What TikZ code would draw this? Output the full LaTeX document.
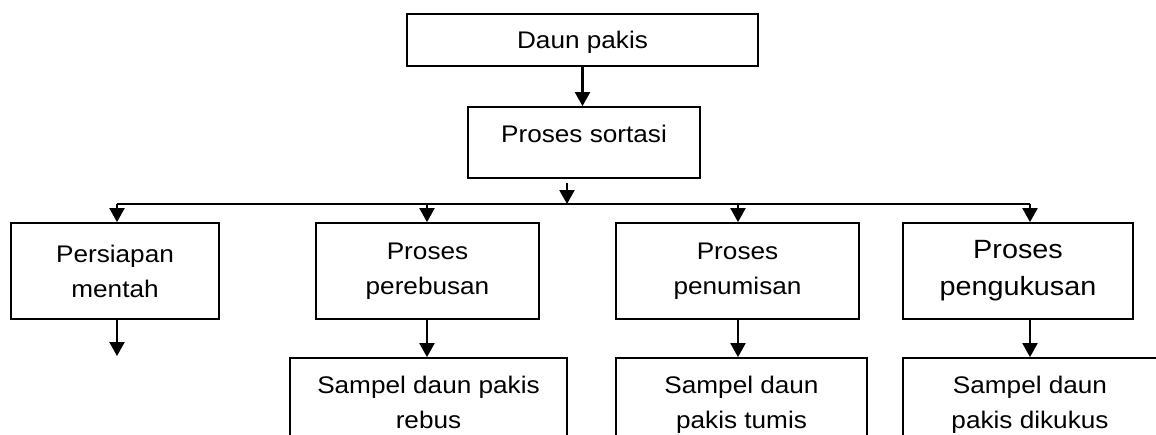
\documentclass[tikz,border=0pt]{standalone}
\usepackage{fontspec}
\newfontfamily\boxfont[FakeStretch=1.09]{Liberation Sans}
\usetikzlibrary{arrows.meta}
\begin{document}
\begin{tikzpicture}[x=1pt,y=-1pt,
  box/.style={draw=black, line width=1.8pt, align=center, inner sep=0pt,
    font=\boxfont\fontsize{24}{35}\selectfont},
  bigtext/.style={font=\boxfont\fontsize{26.4}{37}\selectfont},
  arr/.style={line width=2.2pt, -{Triangle[length=14pt,width=15pt]}},
  busline/.style={line width=2.2pt}]
\useasboundingbox (0,0) rectangle (1156,434);
\fill[white] (0,0) rectangle (1156,434);
\clip (0,0) rectangle (1156,434);

% source and sorting
\node[box, minimum width=351pt, minimum height=52pt, text depth=0pt] (daun) at (582.5,40) {Daun pakis};
\node[box, minimum width=232pt, minimum height=71pt, text height=17.4pt, text depth=17.4pt] (sortasi) at (584,142.5) {Proses sortasi};

% four treatments
\node[box, minimum width=208pt, minimum height=96pt] (mentah) at (115,271) {Persiapan\\mentah};
\node[box, minimum width=223pt, minimum height=96pt] (rebus) at (427.5,271) {Proses\\perebusan};
\node[box, minimum width=243pt, minimum height=96pt] (tumis) at (737.5,271) {Proses\\penumisan};
\node[box, bigtext, minimum width=230pt, minimum height=96pt] (kukus) at (1018,271) {Proses\\pengukusan};

% samples
\node[box, minimum width=277pt, minimum height=88pt] (srebus) at (428.5,402) {Sampel daun pakis\\rebus};
\node[box, minimum width=251pt, minimum height=93pt] (stumis) at (741.5,404.5) {Sampel daun\\pakis tumis};
\node[box, minimum width=254pt, minimum height=93pt] (skukus) at (1030,404.5) {Sampel daun\\pakis dikukus};

% distribution line
\coordinate (sout) at (567,183);
\coordinate (b1) at (117,204);
\coordinate (b2) at (427,204);
\coordinate (b3) at (738,204);
\coordinate (b4) at (1030,204);
\coordinate (mout) at (117,356);

\draw[arr] (daun.south) -- (daun.south |- sortasi.north);
\draw[arr] (sout) -- (sout |- b1);
\draw[busline] (b1) -- (b4);
\draw[arr] (b1) -- (b1 |- mentah.north);
\draw[arr] (b2) -- (b2 |- rebus.north);
\draw[arr] (b3) -- (b3 |- tumis.north);
\draw[arr] (b4) -- (b4 |- kukus.north);

\draw[arr] (b1 |- mentah.south) -- (mout);
\draw[arr] (b2 |- rebus.south) -- (b2 |- srebus.north);
\draw[arr] (b3 |- tumis.south) -- (b3 |- stumis.north);
\draw[arr] (b4 |- kukus.south) -- (b4 |- skukus.north);
\end{tikzpicture}
\end{document}
